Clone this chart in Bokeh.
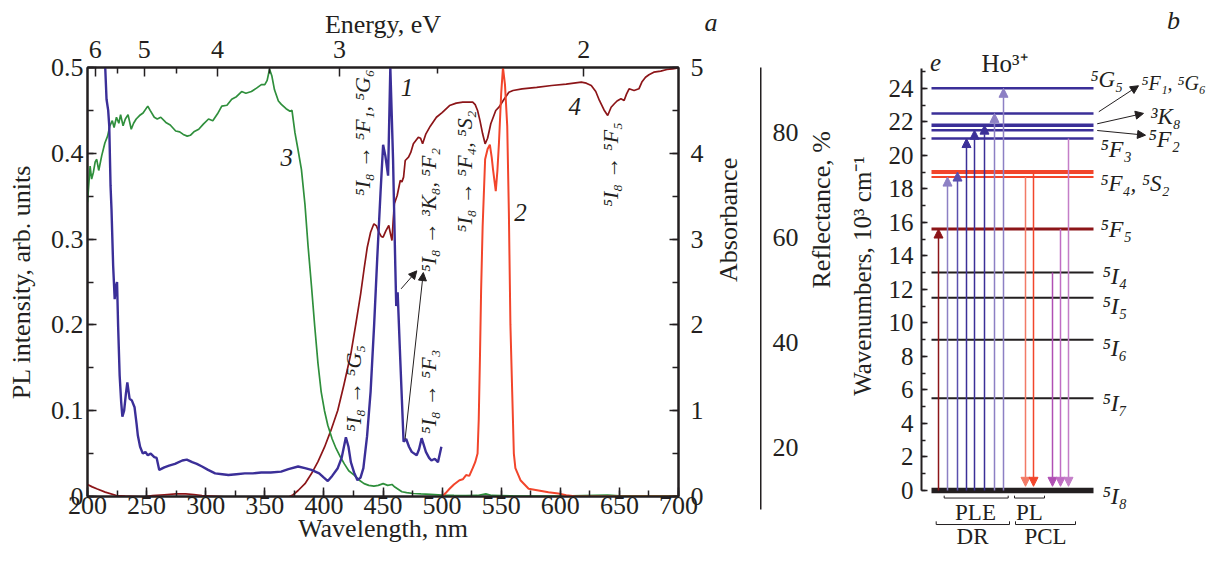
import math
from bokeh.plotting import figure
from bokeh.layouts import row
from bokeh.models import (Range1d, LinearAxis, SingleIntervalTicker, FixedTicker,
                          CustomJSTickFormatter, Arrow, NormalHead)
from bokeh.core.properties import value
from bokeh.embed import file_html
from bokeh.resources import INLINE

# ---------------- data (panel a) ----------------
# curve 1: PL excitation (left axis, arb. units)
PLE = [(213, 0.52), (215, 0.50), (216.1, 0.463), (217.5, 0.45), (218.4, 0.432), (219.5, 0.362),
       (220.3, 0.335), (221.7, 0.269), (223, 0.23), (224, 0.245), (225, 0.25), (225.9, 0.199),
       (227.2, 0.141), (228.5, 0.11), (229.5, 0.093), (231, 0.10), (232.5, 0.12), (233.7, 0.133),
       (235.6, 0.114), (237.5, 0.112), (239.8, 0.104), (241.5, 0.085), (242.6, 0.071), (244.5, 0.058),
       (246.8, 0.05), (249, 0.052), (251, 0.048), (253.5, 0.05), (256.5, 0.046), (258.5, 0.045),
       (260.7, 0.031), (265, 0.034), (269, 0.036), (274, 0.038), (280.2, 0.042), (284, 0.043),
       (288.6, 0.040), (292.5, 0.038), (296.9, 0.035), (302, 0.031), (308, 0.027), (314, 0.026),
       (319.2, 0.025), (326, 0.026), (333.1, 0.027), (340, 0.027), (347, 0.028), (355, 0.028),
       (363.8, 0.029), (370, 0.032), (378.2, 0.035), (384, 0.033), (389.4, 0.031), (396, 0.027),
       (400, 0.022), (403.3, 0.018), (407, 0.024), (411.7, 0.033), (415, 0.045), (418.6, 0.069),
       (420.8, 0.058), (422.8, 0.040), (425.5, 0.028), (428.4, 0.019), (431, 0.022), (433.4, 0.033),
       (436.5, 0.07), (439.5, 0.122), (442.5, 0.2), (445.1, 0.277), (447.9, 0.354), (450.1, 0.41),
       (452, 0.397), (454.3, 0.374), (456.2, 0.5), (458.5, 0.393), (460.4, 0.269), (461.2, 0.222),
       (462.4, 0.238), (464.6, 0.16), (467.4, 0.064), (469.6, 0.067), (472, 0.058), (474.3, 0.052),
       (478.5, 0.048), (480.5, 0.055), (482.7, 0.068), (486.3, 0.052), (489, 0.045), (491, 0.042),
       (493.8, 0.044), (496.5, 0.04), (499.4, 0.058)]

# curve 2: photoluminescence (left axis, arb. units)
PL = [(500.2, 0.0), (503, 0.004), (506.3, 0.009), (510, 0.014), (514.7, 0.019), (517.5, 0.02),
      (520.3, 0.025), (523, 0.024), (525.9, 0.033), (528, 0.04), (530, 0.05), (531, 0.09),
      (532, 0.16), (533, 0.24), (534.3, 0.315), (536.4, 0.393), (538.5, 0.405), (540.4, 0.41),
      (542, 0.395), (543.1, 0.381), (545.4, 0.356), (546.8, 0.38), (548.1, 0.412), (550, 0.47),
      (551.5, 0.5), (553.2, 0.48), (555.1, 0.432), (556.5, 0.33), (557.8, 0.2), (559.3, 0.122),
      (560.7, 0.05), (562, 0.033), (566.3, 0.019), (573.2, 0.009), (581.6, 0.007), (590, 0.005),
      (598.3, 0.0035), (605, 0.0015), (612.2, 0.0003), (650, 0.0), (700, 0.0)]

# curve 3: absorbance
ABSORB = [(200, 3.43), (202.2, 3.85), (203.5, 3.7), (205, 3.78), (206.5, 3.9), (207.8, 3.93),
          (209.5, 3.8), (212, 3.97), (214.7, 4.12), (217, 4.2), (218.9, 4.32), (221, 4.38),
          (222.5, 4.3), (224.5, 4.42), (226.5, 4.35), (228, 4.45), (230.1, 4.32), (232, 4.4),
          (234.3, 4.45), (237, 4.28), (239, 4.35), (241.2, 4.4), (244, 4.44), (247, 4.47),
          (251, 4.55), (253, 4.5), (256.5, 4.42), (259, 4.4), (262, 4.42), (266.3, 4.36),
          (270, 4.33), (274.6, 4.26), (278, 4.25), (281, 4.22), (284.4, 4.2), (287, 4.21),
          (290, 4.25), (294.1, 4.28), (298, 4.34), (302.4, 4.4), (306, 4.38), (310, 4.46),
          (313.6, 4.55), (318, 4.56), (322, 4.63), (326, 4.66), (330.4, 4.72), (334, 4.7),
          (338.7, 4.72), (343, 4.76), (347.1, 4.8), (350, 4.8), (352, 4.85), (354, 4.98),
          (356, 4.9), (358.2, 4.74), (361.5, 4.61), (364, 4.57), (368, 4.52), (371.3, 4.49),
          (373, 4.5), (375.5, 4.24), (378, 4.05), (381, 3.81), (384, 3.4), (386.6, 2.92),
          (389.5, 2.45), (392.2, 1.99), (395, 1.55), (397.7, 1.22), (400.5, 1.0), (403.3, 0.83),
          (407, 0.67), (410.3, 0.56), (414, 0.46), (417.3, 0.38), (421, 0.3), (425.6, 0.25),
          (430, 0.19), (434, 0.15), (438, 0.13), (442.3, 0.12), (446, 0.13), (450.1, 0.15),
          (454, 0.13), (457.6, 0.14), (460, 0.11), (466, 0.055), (470, 0.045), (475.7, 0.035),
          (482, 0.03), (490, 0.025), (500, 0.015), (510, 0.012), (520, 0.01), (530, 0.012),
          (537, 0.03), (542, 0.012), (560, 0.008), (600, 0.006), (640, 0.015), (650, 0.008),
          (700, 0.008)]

# curve 4: diffuse reflectance, %
REFLECT = [(200, 12.95), (204, 12.5), (207.8, 12.13), (215, 11.5), (224.5, 10.86), (232, 10.75),
           (241.2, 10.67), (248, 10.6), (255.1, 10.86), (265, 11.0), (275, 11.15), (283, 11.18),
           (290, 11.05), (296.9, 10.86), (308, 10.7), (319.2, 10.53), (332, 10.35), (344.2, 10.23),
           (355, 10.35), (363.8, 10.5), (369.9, 10.53), (374, 11.0), (378.2, 11.81), (384, 13.1),
           (389.4, 14.99), (395, 17.3), (400.5, 20.06), (406, 23.3), (411.7, 27.05), (417, 32.0),
           (422.8, 37.85), (427, 43.5), (431.1, 49.28), (434, 54.0), (436.7, 58.15), (439.5, 61.0),
           (442.3, 62.61), (444.5, 62.2), (446.5, 61.01), (448.5, 60.2), (450.1, 60.06), (452.5, 61.3),
           (454.9, 62.29), (456.5, 60.5), (457.6, 59.43), (458.7, 63.5), (459.6, 66.42), (462, 68.0),
           (464.6, 70.86), (466, 70.6), (467.4, 71.5), (468.8, 74.67), (471.6, 75.3), (473.5, 76.2),
           (475.7, 77.85), (479.9, 79.1), (481.8, 78.9), (483.5, 77.85), (486.3, 79.75), (490, 81.2),
           (495.2, 82.9), (500, 83.8), (506.3, 85.14), (512, 85.6), (517.5, 85.77), (522, 85.8),
           (525.9, 85.77), (528, 85.3), (530, 84.19), (532, 82.3), (534.3, 79.75), (536.4, 77.85),
           (538.5, 78.9), (541.2, 81.66), (545.4, 84.19), (548.1, 84.82), (552, 86.2), (556.5, 87.68),
           (560, 88.0), (567.7, 88.32), (580, 88.6), (592.7, 88.95), (605, 89.2), (617.8, 89.58),
           (622, 89.4), (626.2, 88.95), (630, 87.8), (633.1, 86.1), (637, 84.3), (640.1, 83.24),
           (643, 84.8), (645.7, 85.47), (648, 86.0), (651.3, 86.42), (654, 86.1), (656, 87.3),
           (658.2, 88.32), (662.4, 88.0), (666.5, 88.32), (669, 89.6), (672.1, 90.53), (675, 91.0),
           (679.1, 91.49), (685, 91.7), (690.2, 92.0), (695, 92.1), (698.6, 92.25), (700, 92.3)]

ENERGY_TICKS = [6, 5, 4, 3, 2]          # eV
ENERGY_MINOR = [5.5, 4.5, 3.5, 2.5]     # eV
HC = 1239.84                            # eV*nm

TRANSITIONS = ["⁵I₈ → ⁵F₁, ⁵G₆", "⁵I₈ → ³K₈, ⁵F₂", "⁵I₈ → ⁵F₄, ⁵S₂",
               "⁵I₈ → ⁵F₅", "⁵I₈ → ⁵G₅", "⁵I₈ → ⁵F₃"]
CURVE_NUMBERS = ["1", "2", "3", "4"]

# ---------------- data (panel b) ----------------
LEVEL_E = [0.0, 5.5, 9.0, 11.5, 13.0, 15.6, 18.7, 19.0, 21.0, 21.5, 21.8, 22.5, 24.0]
UP_TARGETS = [15.6, 18.7, 19.0, 21.0, 21.5, 21.8, 22.5, 24.0]   # PLE / DR excitations
DOWN_SOURCES = [18.7, 19.0, 13.0, 15.6, 21.0]                  # PL / PCL emissions
LEVEL_LABELS = ["⁵G₅", "⁵F₁, ⁵G₆", "³K₈", "⁵F₂", "⁵F₃", "⁵F₄, ⁵S₂", "⁵F₅",
                "⁵I₄", "⁵I₅", "⁵I₆", "⁵I₇", "⁵I₈"]
METHODS = ["PLE", "PL", "DR", "PCL"]

# ---------------- styles ----------------
FONT = "Liberation Serif"
INK = "#231f20"
C_PLE = "#3b2f98"
C_PL = "#f2452b"
C_ABS = "#2f8f3c"
C_REF = "#8c1518"
NBSP = "\u00a0"


def style_axis(ax, size="26px", maj=9, mnr=6):
    ax.major_tick_in = maj
    ax.major_tick_out = 0
    ax.minor_tick_in = mnr
    ax.minor_tick_out = 0
    ax.axis_line_color = INK
    ax.axis_line_width = 2
    ax.major_tick_line_color = INK
    ax.major_tick_line_width = 1.5
    ax.minor_tick_line_color = INK
    ax.minor_tick_line_width = 1.5
    ax.major_label_text_font = FONT
    ax.major_label_text_font_size = size
    ax.major_label_text_color = INK
    ax.axis_label_text_font = FONT
    ax.axis_label_text_font_size = size
    ax.axis_label_text_font_style = "normal"
    ax.axis_label_text_color = INK


def no_align(f):
    try:
        f.frame_align = False
    except Exception:
        pass


# ---------------- geometry ----------------
H = 551
P1_L, P1_T, P1_R, P1_B = 87, 67, 75, 55
P1_FW = 598
PR_FW, PR_R, PR_T, PR_B = 1, 84, 67, 42
P2_L = 76
P2_FW = 289
REFL_HI, REFL_AXIS_LO = 92.38, 8.19
p1_frame_h = H - P1_T - P1_B
pr_frame_h = H - PR_T - PR_B
refl_lo_p1 = REFL_HI - (REFL_HI - REFL_AXIS_LO) * p1_frame_h / pr_frame_h

# ---------------- panel a ----------------
p1 = figure(width=P1_L + P1_FW + P1_R, height=H, x_range=Range1d(200, 700), y_range=Range1d(0, 0.5),
            output_backend="svg", toolbar_location=None,
            x_axis_location=None, y_axis_location=None,
            min_border_left=P1_L, min_border_right=P1_R, min_border_top=P1_T,
            min_border_bottom=P1_B)
no_align(p1)
p1.extra_y_ranges = {"abs": Range1d(0, 5), "refl": Range1d(refl_lo_p1, REFL_HI)}
p1.xgrid.visible = False
p1.ygrid.visible = False
p1.outline_line_color = INK
p1.outline_line_width = 2

ax_b = LinearAxis(ticker=SingleIntervalTicker(interval=50, num_minor_ticks=2),
                  axis_label="Wavelength, nm")
style_axis(ax_b)
ax_b.major_label_standoff = 0
ax_b.axis_label_standoff = -3
p1.add_layout(ax_b, "below")

ax_t = LinearAxis(ticker=FixedTicker(ticks=[HC / e for e in ENERGY_TICKS],
                                     minor_ticks=[HC / e for e in ENERGY_MINOR]),
                  formatter=CustomJSTickFormatter(code="return String(Math.round(%s / tick));" % HC),
                  axis_label="Energy, eV")
style_axis(ax_t)
ax_t.major_label_standoff = 10
ax_t.axis_label_standoff = -1
p1.add_layout(ax_t, "above")

# panel letter "a" (outer label row above the energy axis)
ax_a = LinearAxis(ticker=FixedTicker(ticks=[700]),
                  formatter=CustomJSTickFormatter(code="return '%s' + 'a';" % (NBSP * 10)))
style_axis(ax_a)
ax_a.axis_line_color = None
ax_a.major_tick_line_color = None
ax_a.minor_tick_line_color = None
ax_a.major_label_text_font_style = "italic"
ax_a.major_label_standoff = -30
p1.add_layout(ax_a, "above")

ax_l = LinearAxis(ticker=SingleIntervalTicker(interval=0.1, num_minor_ticks=2),
                  axis_label="PL intensity, arb. units")
style_axis(ax_l)
ax_l.major_label_standoff = 4
ax_l.axis_label_standoff = 12
p1.add_layout(ax_l, "left")

ax_r = LinearAxis(y_range_name="abs", ticker=SingleIntervalTicker(interval=1, num_minor_ticks=2),
                  axis_label="Absorbance")
style_axis(ax_r)
ax_r.major_label_standoff = 12
ax_r.axis_label_standoff = 22
ax_r.axis_label_orientation = math.pi / 2
p1.add_layout(ax_r, "right")


def xs(d):
    return [a for a, _ in d]


def ys(d):
    return [b for _, b in d]


p1.line(xs(REFLECT), ys(REFLECT), y_range_name="refl", line_color=C_REF, line_width=1.7)
p1.line(xs(ABSORB), ys(ABSORB), y_range_name="abs", line_color=C_ABS, line_width=1.7)
p1.line(xs(PL), ys(PL), line_color=C_PL, line_width=2)
p1.line(xs(PLE), ys(PLE), line_color=C_PLE, line_width=2.4)

# transition labels (rotated)
p1.text(x=[432.6, 488.5, 518.6, 642.3, 425.0, 488.5],
        y=[0.424, 0.334, 0.379, 0.387, 0.126, 0.122],
        text=TRANSITIONS, angle=math.pi / 2, text_align="center", text_baseline="middle",
        text_font=value(FONT), text_font_size="22px", text_font_style="italic", text_color=INK)

# curve numbers
p1.text(x=[470.2, 566.3, 368.5, 612.2], y=[0.477, 0.331, 0.395, 0.455],
        text=CURVE_NUMBERS, text_align="center", text_baseline="middle",
        text_font=value(FONT), text_font_size="25px", text_font_style="italic", text_color=INK)

for (x0, y0, x1, y1) in [(465.3, 0.242, 478.6, 0.263), (468.7, 0.067, 484.1, 0.261)]:
    p1.add_layout(Arrow(end=NormalHead(size=8, fill_color=INK, line_color=INK, line_width=1),
                        x_start=x0, y_start=y0, x_end=x1, y_end=y1,
                        line_color=INK, line_width=1))

# ---------------- reflectance axis (own strip) ----------------
pr = figure(width=PR_FW + PR_R, height=H, x_range=Range1d(0, 1),
            y_range=Range1d(REFL_AXIS_LO, REFL_HI),
            output_backend="svg", toolbar_location=None,
            x_axis_location=None, y_axis_location=None,
            min_border_left=0, min_border_right=PR_R, min_border_top=PR_T,
            min_border_bottom=PR_B)
no_align(pr)
pr.outline_line_color = None
pr.xgrid.visible = False
pr.ygrid.visible = False
ax_refl = LinearAxis(ticker=FixedTicker(ticks=[20, 40, 60, 80], minor_ticks=[30, 50, 70, 90]),
                     axis_label="Reflectance, %")
style_axis(ax_refl)
ax_refl.major_label_standoff = 12
ax_refl.axis_label_standoff = 20
ax_refl.axis_label_orientation = math.pi / 2
pr.add_layout(ax_refl, "right")

# ---------------- panel b: energy levels ----------------
PX_PER_E = 16.76
E_ZERO_Y = 490
E_TOP = E_ZERO_Y / PX_PER_E
E_BOT = (E_ZERO_Y - H) / PX_PER_E
p2 = figure(width=P2_L + P2_FW, height=H, x_range=Range1d(0, P2_FW), y_range=Range1d(E_BOT, E_TOP),
            output_backend="svg", toolbar_location=None,
            x_axis_location=None, y_axis_location=None,
            min_border_left=P2_L, min_border_right=0, min_border_top=0, min_border_bottom=0)
no_align(p2)
p2.outline_line_color = None
p2.xgrid.visible = False
p2.ygrid.visible = False
ax_e = LinearAxis(ticker=SingleIntervalTicker(interval=2, num_minor_ticks=2),
                  bounds=(0, 25.16), axis_label="Wavenumbers, 10³ cm⁻¹")
style_axis(ax_e, size="25px", maj=6, mnr=4)
ax_e.major_label_standoff = 8
ax_e.axis_label_standoff = 10
p2.add_layout(ax_e, "left")

LX0, LX1 = 10, 172
level_color = []
level_width = []
for e in LEVEL_E:
    if e == 0:
        level_color.append(INK); level_width.append(5.5)
    elif e < 15:
        level_color.append(INK); level_width.append(2)
    elif e < 17:
        level_color.append("#8c1518"); level_width.append(3)
    elif e < 20:
        level_color.append("#f2452b"); level_width.append(4 if e >= 19 else 2)
    else:
        level_color.append(C_PLE); level_width.append(3.5 if abs(e - 21.8) < 1e-6 else 2.5)

p2.segment(x0=[LX0] * len(LEVEL_E), x1=[LX1] * len(LEVEL_E), y0=LEVEL_E, y1=LEVEL_E,
           line_color=level_color, line_width=level_width)

# vertical transitions
UP_X = [17, 26, 36, 45, 53, 63, 73, 82]
UP_COL = ["#8c1518", "#8d80c4", "#5a4fae", C_PLE, C_PLE, C_PLE, "#8d80c4", "#8d80c4"]
for x, e, c in zip(UP_X, UP_TARGETS, UP_COL):
    p2.add_layout(Arrow(end=NormalHead(size=9, fill_color=c, line_color=c, line_width=1),
                        x_start=x, y_start=0, x_end=x, y_end=e, line_color=c, line_width=1.5))
DOWN_X = [104, 112, 131, 139, 147]
DOWN_COL = ["#f27a66", "#f2452b", "#b04fb4", "#c06cc4", "#c47ec8"]
for x, e, c in zip(DOWN_X, DOWN_SOURCES, DOWN_COL):
    p2.add_layout(Arrow(end=NormalHead(size=9, fill_color=c, line_color=c, line_width=1),
                        x_start=x, y_start=e, x_end=x, y_end=0.25, line_color=c, line_width=1.5))

# level labels
lab_x = [169, 220, 229, 227, 179, 179, 179, 181, 181, 181, 181, 181]
lab_y = [24.5, 24.3, 22.3, 21.0, 20.4, 18.3, 15.6, 12.8, 11.0, 8.5, 5.25, -0.3]
lab_fs = ["23px", "20px", "23px", "24px", "24px", "23px", "24px", "24px", "24px", "24px", "24px", "24px"]
p2.text(x=lab_x, y=lab_y, text=LEVEL_LABELS, text_align="left", text_baseline="middle",
        text_font=value(FONT), text_font_size=lab_fs, text_font_style="italic", text_color=INK)
for (x0, y0, x1, y1) in [(177.3, 22.6, 217, 24.15), (175.7, 21.88, 222, 22.5),
                         (175.7, 21.48, 224, 21.2)]:
    p2.add_layout(Arrow(end=NormalHead(size=8, fill_color=INK, line_color=INK, line_width=1),
                        x_start=x0, y_start=y0, x_end=x1, y_end=y1, line_color=INK, line_width=1))


# brackets under the ground level
def bracket(xa, xb, yb, yt):
    return [xa, xa, xb, xb], [yt, yb, yb, yt]


br = [bracket(22.7, 86.7, -0.45, -0.31), bracket(93, 123, -0.45, -0.31),
      bracket(14.7, 88, -2.03, -1.84), bracket(94, 154, -2.03, -1.84)]
p2.multi_line(xs=[b[0] for b in br], ys=[b[1] for b in br], line_color=INK, line_width=1)
p2.text(x=[54, 108, 51, 124], y=[-1.3, -1.3, -2.72, -2.72], text=METHODS,
        text_align="center", text_baseline="middle", text_font=value(FONT),
        text_font_size="23px", text_color=INK)

p2.text(x=[14], y=[25.54], text=["e"], text_align="center", text_baseline="middle",
        text_font=value(FONT), text_font_size="25px", text_font_style="italic", text_color=INK)
p2.text(x=[83], y=[25.48], text=["Ho³⁺"], text_align="center", text_baseline="middle",
        text_font=value(FONT), text_font_size="25px", text_color=INK)
p2.text(x=[252], y=[28.04], text=["b"], text_align="center", text_baseline="middle",
        text_font=value(FONT), text_font_size="26px", text_font_style="italic", text_color=INK)

layout = row(p1, pr, p2)
with open("out.html", "w", encoding="utf-8") as f:
    f.write(file_html(layout, INLINE))
